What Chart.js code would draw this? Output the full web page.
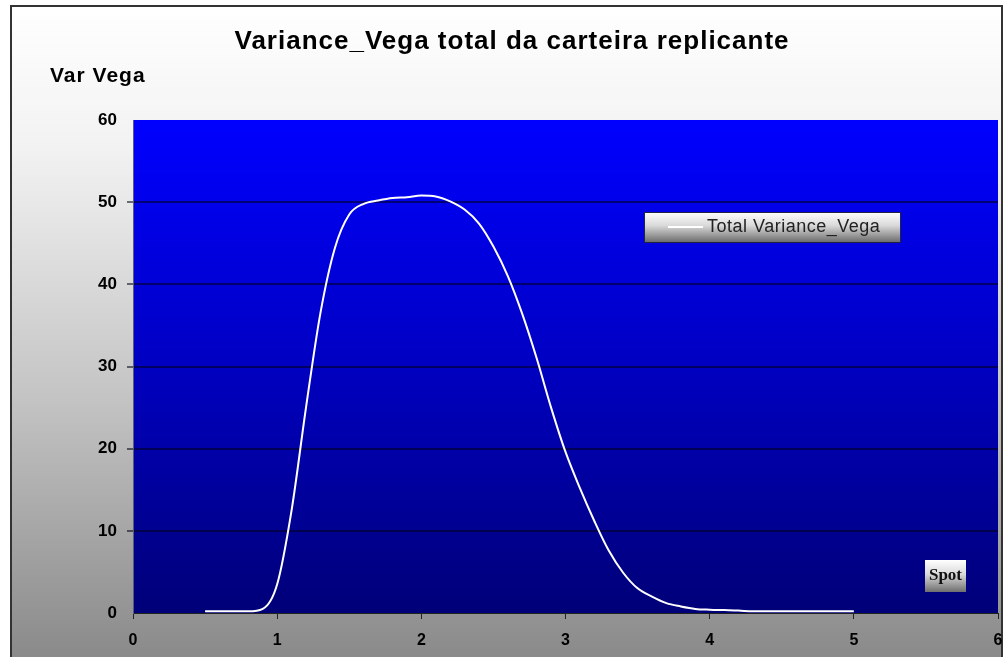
<!DOCTYPE html>
<html>
<head>
<meta charset="utf-8">
<script src="https://cdn.jsdelivr.net/npm/chart.js@4.4.1/dist/chart.umd.min.js"></script>
<style>
  html, body { margin: 0; padding: 0; background: #ffffff; }
  #wrap { width: 1003px; height: 657px; }
</style>
</head>
<body>
<div id="wrap"><canvas id="vega-chart" width="1003" height="657"></canvas></div>
<script>
var chartTitle = "Variance_Vega total da carteira replicante";
var yAxisTitle = "Var Vega";
var xAxisTitle = "Spot";
var seriesLabel = "Total Variance_Vega";

// spot values and the variance vega
var spot = [0.5, 0.6, 0.7, 0.8, 0.9, 1.0, 1.1, 1.2, 1.3, 1.4, 1.5, 1.6, 1.7, 1.8, 1.9,
            2.0, 2.1, 2.2, 2.3, 2.4, 2.5, 2.6, 2.7, 2.8, 2.9, 3.0, 3.1, 3.2, 3.3, 3.4,
            3.5, 3.6, 3.7, 3.8, 3.9, 4.0, 4.1, 4.2, 4.3, 4.4, 4.5, 4.6, 4.7, 4.8, 4.9, 5.0];
var varVega = [0.2, 0.2, 0.2, 0.2, 0.5, 3.5, 12.5, 25.0, 36.5, 44.4, 48.5, 49.8, 50.2, 50.5, 50.6,
               50.8, 50.7, 50.1, 49.1, 47.4, 44.6, 41.0, 36.4, 31.0, 25.0, 19.6, 15.2, 11.2, 7.6, 4.9,
               3.0, 2.0, 1.2, 0.8, 0.5, 0.4, 0.35, 0.3, 0.2, 0.2, 0.2, 0.2, 0.2, 0.2, 0.2, 0.2];
var xTicks = [0, 1, 2, 3, 4, 5, 6];
var yTicks = [0, 10, 20, 30, 40, 50, 60];

var points = spot.map(function (s, i) { return { x: s, y: varVega[i] }; });

function boxGradient(ctx, top, bottom) {
    var g = ctx.createLinearGradient(0, top, 0, bottom);
    g.addColorStop(0, "#ffffff");
    g.addColorStop(0.45, "#d9d9d9");
    g.addColorStop(1, "#6e6e6e");
    return g;
}

var decor = {
    id: "decor",
    beforeDraw: function (chart) {
        var ctx = chart.ctx;
        var a = chart.chartArea;
        ctx.save();
        ctx.fillStyle = "#ffffff";
        ctx.fillRect(0, 0, chart.width, chart.height);

        // outer frame with white-to-grey fade
        var bg = ctx.createLinearGradient(0, 6, 0, chart.height);
        bg.addColorStop(0, "#ffffff");
        bg.addColorStop(0.22, "#f2f2f2");
        bg.addColorStop(0.6, "#c4c4c4");
        bg.addColorStop(1, "#8a8a8a");
        ctx.fillStyle = bg;
        ctx.fillRect(11, 6, chart.width - 12, chart.height);
        ctx.strokeStyle = "#333333";
        ctx.lineWidth = 2;
        ctx.strokeRect(11, 6, chart.width - 12, chart.height + 10);

        // plot area blue fade
        var pg = ctx.createLinearGradient(0, a.top, 0, a.bottom);
        pg.addColorStop(0, "#0000ff");
        pg.addColorStop(0.45, "#0000c8");
        pg.addColorStop(1, "#000078");
        ctx.fillStyle = pg;
        ctx.fillRect(a.left, a.top, a.right - a.left, a.bottom - a.top);

        // titles
        ctx.fillStyle = "#000000";
        ctx.textBaseline = "middle";
        ctx.textAlign = "center";
        ctx.font = "bold 26px 'Liberation Sans', Arial, sans-serif";
        ctx.letterSpacing = "1px";
        ctx.fillText(chartTitle, 512, 42);
        ctx.textAlign = "left";
        ctx.font = "bold 21px 'Liberation Sans', Arial, sans-serif";
        ctx.fillText(yAxisTitle, 50, 76);
        ctx.letterSpacing = "0px";
        ctx.restore();
    },
    afterDraw: function (chart) {
        var ctx = chart.ctx;
        var ds = chart.data.datasets[0];
        ctx.save();

        // legend box
        ctx.fillStyle = boxGradient(ctx, 212, 242);
        ctx.fillRect(644, 212, 256, 30);
        ctx.strokeStyle = "#222244";
        ctx.lineWidth = 1;
        ctx.strokeRect(644.5, 212.5, 256, 30);
        ctx.strokeStyle = ds.borderColor;
        ctx.lineWidth = 2;
        ctx.beginPath();
        ctx.moveTo(668, 227);
        ctx.lineTo(703, 227);
        ctx.stroke();
        ctx.fillStyle = "#222222";
        ctx.font = "18px 'Liberation Sans', Arial, sans-serif";
        ctx.letterSpacing = "0.5px";
        ctx.textBaseline = "middle";
        ctx.textAlign = "left";
        ctx.fillText(ds.label, 707, 227);
        ctx.letterSpacing = "0px";

        // x axis title box
        ctx.fillStyle = boxGradient(ctx, 560, 592);
        ctx.fillRect(925, 560, 41, 32);
        ctx.fillStyle = "#111111";
        ctx.font = "bold 17px 'Liberation Serif', 'Times New Roman', serif";
        ctx.textAlign = "center";
        ctx.fillText(xAxisTitle, 945.5, 576);
        ctx.restore();
    }
};

var ctx = document.getElementById("vega-chart");

var vegaChart = new Chart(ctx, {
    type: "line",
    data: {
        datasets: [{
            label: seriesLabel,
            data: points,
            borderColor: "#ffffff",
            borderWidth: 2,
            pointRadius: 0,
            fill: false,
            cubicInterpolationMode: "monotone"
        }]
    },
    options: {
        responsive: false,
        animation: false,
        events: [],
        layout: { padding: { left: 0, right: 5, top: 120, bottom: 0 } },
        plugins: {
            legend: { display: false },
            title: { display: false },
            tooltip: { enabled: false }
        },
        scales: {
            x: {
                type: "linear",
                min: 0,
                max: 6,
                afterBuildTicks: function (scale) {
                    scale.ticks = xTicks.map(function (v) { return { value: v }; });
                },
                afterFit: function (scale) {
                    scale.height = 44;
                    scale.paddingLeft = 0;
                    scale.paddingRight = 0;
                },
                border: { display: true, color: "#222222", width: 1 },
                grid: { drawOnChartArea: false, drawTicks: true, tickLength: 6, color: "#222222" },
                ticks: {
                    color: "#000000",
                    padding: 12,
                    maxRotation: 0,
                    font: { family: "'Liberation Sans', Arial, sans-serif", size: 16, weight: "bold" }
                }
            },
            y: {
                min: 0,
                max: 60,
                afterBuildTicks: function (scale) {
                    scale.ticks = yTicks.map(function (v) { return { value: v }; });
                },
                afterFit: function (scale) {
                    scale.width = 133;
                    scale.paddingTop = 0;
                    scale.paddingBottom = 0;
                },
                border: { display: true, color: "#5a5a80", width: 1 },
                grid: {
                    drawOnChartArea: true,
                    drawTicks: true,
                    tickLength: 6,
                    lineWidth: 2,
                    color: function (c) {
                        if (c.tick && (c.tick.value === 0 || c.tick.value === 60)) return "rgba(0,0,0,0)";
                        return "rgba(0,0,20,0.55)";
                    }
                },
                ticks: {
                    color: "#000000",
                    padding: 10,
                    font: { family: "'Liberation Sans', Arial, sans-serif", size: 17, weight: "bold" }
                }
            }
        }
    },
    plugins: [decor]
});
</script>
</body>
</html>
